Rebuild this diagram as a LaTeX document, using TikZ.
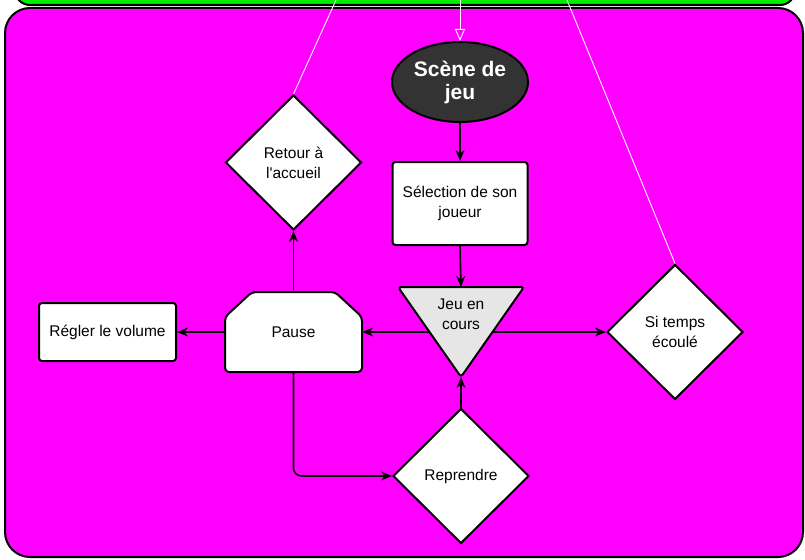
\documentclass[tikz,border=0pt]{standalone}
\usepackage{fontspec}
\setmainfont{Liberation Sans}
\usetikzlibrary{arrows.meta, positioning, shapes.geometric}
\definecolor{Vert}{HTML}{00F000}
\definecolor{Rose}{HTML}{FF00FF}
\definecolor{Ardoise}{HTML}{333333}
\definecolor{Gris}{HTML}{E6E6E6}

\begin{document}
\begin{tikzpicture}[x=1pt, y=-1pt,
    every node/.style={font=\fontsize{15.5}{20}\selectfont, align=center},
    boite/.style={draw, fill=white, line width=2pt, rounded corners=3pt},
    losange/.style={diamond, draw, fill=white, line width=2pt, inner sep=0pt,
      minimum width=136pt, minimum height=135pt},
    fleche/.style={-{Stealth[length=11pt, width=9pt]}, line width=1.6pt},
    trait/.style={white, line width=0.9pt}]
  \useasboundingbox (0,0) rectangle (805,559);
  \clip (0,0) rectangle (805,559);
  % Fonds
  \draw[fill=Vert, line width=2pt, rounded corners=15pt] (15,-40) rectangle (795,5);
  \draw[fill=Rose, line width=2pt, rounded corners=25pt] (5,8) rectangle (803,557);
  % Pause (coins coupes)
  \draw[fill=white, line width=2pt, rounded corners=4pt]
    (225,345) -- (225,317) -- (252,292) -- (335,292) -- (362,317)
    -- (362,372) -- (225,372) -- cycle;
  \node[minimum width=137pt, minimum height=80pt] (pause) at (293.5,332) {Pause};
  % Noeuds
  \node[ellipse, draw, fill=Ardoise, line width=2pt, inner sep=0pt,
    minimum width=136pt, minimum height=80pt, text=white,
    font=\fontsize{21}{23}\selectfont\bfseries] (scene) at (460,82) {Scène de\\jeu};
  \node[boite, minimum width=135pt, minimum height=83pt] (selection) at (460,203.5) {Sélection de son\\joueur};
  \node[boite, minimum width=137pt, minimum height=58pt] (volume) at (107.5,332) {Régler le volume};
  \node[losange] (retour) at (293.5,162.5) {Retour à\\l\textquotesingle accueil};
  \node[losange] (temps) at (675,332) {Si temps\\écoulé};
  \node[losange] (reprendre) at (461,476) {Reprendre};
  % Ligne horizontale sous le triangle
  \coordinate (centre) at (461,332);
  \draw[fleche] (centre) -- (pause.east);
  \draw[fleche] (centre) -- (temps.west);
  % Jeu en cours
  \coordinate (jeuhaut) at (461,287);
  \coordinate (jeubas) at (461,377);
  \draw[fill=Gris, line width=2pt, rounded corners=3pt]
    (jeuhaut) -- ++(63,0) -- (jeubas) -- ++(-63,-90) -- cycle;
  \node (jeu) at (461,314) {Jeu en\\cours};
  % Connecteurs
  \draw[fleche] (scene.south) -- (selection.north);
  \draw[fleche] (selection.south) -- (jeuhaut);
  \draw[fleche] (reprendre.north) -- (jeubas);
  \draw[fleche] (pause.west) -- (volume.east);
  \draw[fleche] (pause.north) -- (retour.south);
  \draw[fleche, rounded corners=8pt] (pause.south) |- (reprendre.west);
  % Traits blancs venant du haut
  \coordinate (haut1) at (336,0);
  \coordinate (haut2) at (460,0);
  \coordinate (haut3) at (567,0);
  \draw[trait] (haut1) -- (retour.north);
  \draw[trait, -{Triangle[open, length=12pt, width=10pt]}] (haut2) -- (scene.north);
  \draw[trait] (haut3) -- (temps.north);
\end{tikzpicture}
\end{document}
